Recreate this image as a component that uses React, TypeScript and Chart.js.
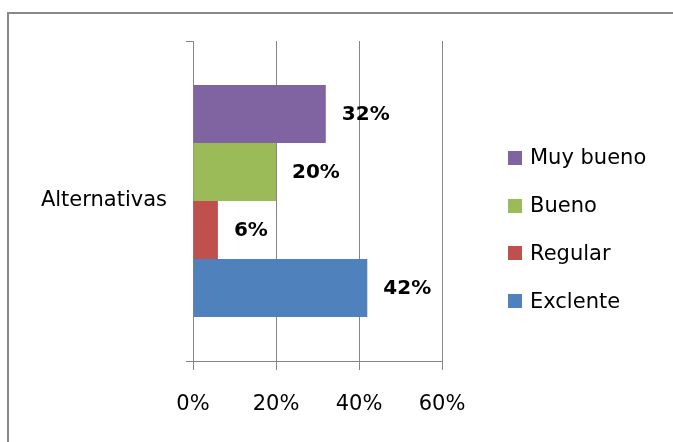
import React, { useEffect, useRef } from "react";
import { Chart, registerables } from "chart.js";

Chart.register(...registerables);

const categories = ["Alternativas"];
const seriesNames = ["Muy bueno", "Bueno", "Regular", "Exclente"];
const seriesValues = [0.32, 0.2, 0.06, 0.42];
const seriesColors = ["#8064A2", "#9BBB59", "#C0504D", "#4F81BD"];
const xTickValues = [0, 0.2, 0.4, 0.6];

const FONT = "'DejaVu Sans', sans-serif";
const GRID = "#868686";

const pct = (v: number) => Math.round(v * 100) + "%";

const dataLabelPlugin = {
  id: "dataLabels",
  afterDatasetsDraw(chart: any) {
    const ctx = chart.ctx;
    ctx.save();
    ctx.font = `bold 20px ${FONT}`;
    ctx.fillStyle = "#000";
    ctx.textAlign = "left";
    ctx.textBaseline = "middle";
    chart.data.datasets.forEach((ds: any, i: number) => {
      const meta = chart.getDatasetMeta(i);
      meta.data.forEach((el: any, j: number) => {
        ctx.fillText(pct(ds.data[j]), el.x + 16, el.y + 1);
      });
    });
    ctx.restore();
  },
};

const legendPlugin = {
  id: "sideLegend",
  afterDraw(chart: any) {
    const ctx = chart.ctx;
    const area = chart.chartArea;
    ctx.save();
    ctx.font = `21px ${FONT}`;
    ctx.textAlign = "left";
    ctx.textBaseline = "middle";
    chart.data.datasets.forEach((ds: any, i: number) => {
      const cy = area.top + 117 + i * 47.7;
      const bx = area.right + 66;
      ctx.fillStyle = ds.backgroundColor;
      ctx.fillRect(bx, Math.round(cy - 7), 14, 14);
      ctx.fillStyle = "#000";
      ctx.fillText(ds.label, bx + 22, cy + 1);
    });
    ctx.restore();
  },
};

export default function App() {
  const ref = useRef<HTMLCanvasElement | null>(null);

  useEffect(() => {
    if (!ref.current) return;
    const chart = new Chart(ref.current, {
      type: "bar",
      data: {
        labels: categories,
        datasets: seriesNames.map((name, i) => ({
          label: name,
          data: [seriesValues[i]],
          backgroundColor: seriesColors[i],
          borderWidth: 0,
          categoryPercentage: 0.725,
          barPercentage: 1,
        })),
      },
      options: {
        indexAxis: "y",
        responsive: false,
        animation: false,
        layout: { padding: { top: 41, right: 231, left: 0, bottom: 0 } },
        plugins: {
          legend: { display: false },
          tooltip: { enabled: false },
        },
        scales: {
          x: {
            type: "linear",
            min: 0,
            max: 0.6,
            afterBuildTicks: (scale: any) => {
              scale.ticks = xTickValues.map((v) => ({ value: v }));
            },
            afterFit: (scale: any) => {
              scale.height = 81;
            },
            ticks: {
              callback: (v: any) => pct(Number(v)),
              font: { family: FONT, size: 21 },
              color: "#000",
              padding: 22,
              maxRotation: 0,
            },
            grid: { color: GRID, lineWidth: 1, tickLength: 9, drawTicks: true },
            border: { display: true, color: GRID, width: 1 },
          },
          y: {
            type: "category",
            afterFit: (scale: any) => {
              scale.width = 193;
            },
            ticks: {
              font: { family: FONT, size: 21 },
              color: "#000",
              padding: 19,
            },
            grid: {
              drawOnChartArea: false,
              tickLength: 7,
              color: GRID,
              offset: true,
            },
            border: { display: true, color: GRID, width: 1 },
          },
        },
      },
      plugins: [dataLabelPlugin, legendPlugin],
    } as any);
    return () => chart.destroy();
  }, []);

  return (
    <div
      style={{
        position: "fixed",
        left: 0,
        top: 0,
        width: 673,
        height: 442,
        overflow: "hidden",
        background: "#fff",
      }}
    >
      <div
        style={{
          position: "absolute",
          left: 7,
          top: 12,
          width: 800,
          height: 600,
          border: "2px solid #898989",
        }}
      />
      <canvas
        ref={ref}
        width={673}
        height={442}
        style={{ position: "absolute", left: 0, top: 0 }}
      />
    </div>
  );
}
